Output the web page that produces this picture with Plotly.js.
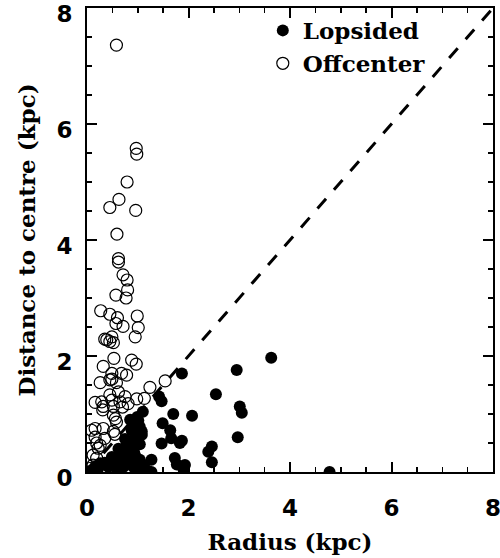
<!DOCTYPE html>
<html>
<head>
<meta charset="utf-8">
<script src="https://cdn.plot.ly/plotly-3.0.1.min.js"></script>
<style>html,body{margin:0;padding:0;background:#fff;}#chart{width:500px;height:558px;}</style>
</head>
<body>
<div id="chart"></div>
<script>
// Lopsided galaxies (filled circles): radius (kpc) and distance to centre (kpc)
var lopsidedRadius = [3.63,2.95,1.87,2.54,1.42,1.47,3.01,3.05,1.70,2.07,1.49,1.64,1.66,1.47,1.83,1.87,2.97,2.46,2.39,2.46,1.73,1.77,1.93,1.90,1.27,1.27,1.11,1.18,4.78,
  1.10,0.99,1.01,0.85,0.91,1.04,0.88,1.08,0.95,1.08,0.75,0.78,0.88,0.95,1.04,0.62,0.68,0.78,0.85,0.93,0.95,0.49,0.55,0.68,0.81,1.04,0.78,0.35,0.42,0.26,0.16,0.22,0.09,0.55,0.72,0.91,0.60,1.00];
var lopsidedDist = [1.97,1.76,1.70,1.34,1.30,1.22,1.13,1.02,1.00,0.97,0.84,0.72,0.58,0.49,0.50,0.54,0.60,0.44,0.35,0.17,0.24,0.13,0.12,0.05,0.21,0.00,0.12,0.03,0.00,
  1.04,0.95,0.89,0.90,0.78,0.78,0.72,0.70,0.64,0.64,0.57,0.47,0.52,0.49,0.48,0.40,0.33,0.41,0.32,0.33,0.28,0.26,0.21,0.18,0.17,0.21,0.24,0.16,0.09,0.15,0.09,0.06,0.03,0.12,0.09,0.09,0.03,0.02];

// Offcenter galaxies (open circles)
var offcenterRadius = [0.58,0.97,0.98,0.79,0.63,0.45,0.96,0.59,0.62,0.62,0.71,0.79,0.80,0.57,0.77,0.27,0.45,0.60,0.57,0.99,0.71,1.01,0.35,0.39,0.49,0.52,0.45,0.95,0.53,0.32,0.88,0.97,0.49,0.49,0.68,0.78,0.26,0.45,0.58,1.54,1.24,0.62,0.45,0.75,0.16,0.29,0.32,0.49,0.65,0.81,0.98,1.13,0.31,0.52,0.70,0.52,0.56,0.58,0.09,0.16,0.32,0.52,0.55,0.16,0.35,0.19,0.26,0.22,0.12,0.19,0.12,0.06];
var offcenterDist = [7.36,5.58,5.48,5.00,4.70,4.56,4.51,4.10,3.68,3.62,3.40,3.31,3.14,3.05,3.00,2.78,2.72,2.66,2.56,2.69,2.51,2.49,2.29,2.28,2.33,2.23,2.25,2.33,1.96,1.82,1.93,1.86,1.70,1.60,1.70,1.67,1.54,1.59,1.54,1.57,1.46,1.38,1.33,1.30,1.20,1.21,1.13,1.24,1.21,1.18,1.26,1.27,1.07,1.13,1.12,0.98,0.92,0.86,0.72,0.75,0.75,0.70,0.65,0.60,0.58,0.50,0.46,0.41,0.29,0.24,0.12,0.06];

// One-to-one reference line
var lineX = [0, 8];
var lineY = [0, 8];

var tickVals = [0, 2, 4, 6, 8];
var tickText = ['0', '2', '4', '6', '8'];

var titleFont = {family: 'DejaVu Serif', size: 23, color: '#000', weight: 'bold'};
var tickFont = {family: 'DejaVu Sans', size: 23, color: '#000', weight: 'bold'};

var traces = [
  {
    x: lopsidedRadius, y: lopsidedDist, type: 'scatter', mode: 'markers', name: 'Lopsided',
    marker: {symbol: 'circle', size: 12, color: '#000', line: {width: 0}}
  },
  {
    x: offcenterRadius, y: offcenterDist, type: 'scatter', mode: 'markers', name: 'Offcenter',
    marker: {symbol: 'circle-open', size: 12, color: '#000', line: {width: 1.2, color: '#000'}}
  },
  {
    x: lineX, y: lineY, type: 'scatter', mode: 'lines', showlegend: false, hoverinfo: 'skip',
    line: {color: '#000', width: 3, dash: '13px,12px'}
  }
];

var RANGE = [0, 8];

function axisCommon() {
  return {
    range: RANGE, autorange: false, showgrid: false, zeroline: false,
    showline: true, linecolor: '#000', linewidth: 2, mirror: true,
    ticks: 'inside', ticklen: 10, tickwidth: 2, tickcolor: '#000',
    tickmode: 'array', tickvals: tickVals, ticktext: tickText, tickfont: tickFont,
    ticklabeloverflow: 'allow',
    minor: {tickmode: 'linear', tick0: 0, dtick: 0.5, ticks: 'inside', ticklen: 5, tickwidth: 1.5, tickcolor: '#000', showgrid: false}
  };
}

var xaxis = axisCommon();
xaxis.title = {text: 'Radius (kpc)', font: titleFont, standoff: 14};
xaxis.ticklabelstandoff = 14;
var yaxis = axisCommon();
yaxis.title = {text: 'Distance to centre (kpc)', font: titleFont, standoff: 14};
yaxis.ticklabelstandoff = 8;
yaxis.ticklabelshift = 6;

var xaxis2 = axisCommon();
xaxis2.overlaying = 'x'; xaxis2.side = 'top'; xaxis2.showticklabels = false; xaxis2.anchor = 'y';
var yaxis2 = axisCommon();
yaxis2.overlaying = 'y'; yaxis2.side = 'right'; yaxis2.showticklabels = false; yaxis2.anchor = 'x';

// empty helper trace so the top/right tick axes are drawn
traces.push({x: [], y: [], xaxis: 'x2', yaxis: 'y2', type: 'scatter', mode: 'markers', showlegend: false, hoverinfo: 'skip'});

var layout = {
  width: 500, height: 558,
  margin: {l: 87, r: 7, t: 8, b: 86, pad: 0},
  paper_bgcolor: '#fff', plot_bgcolor: '#fff',
  xaxis: xaxis, yaxis: yaxis, xaxis2: xaxis2, yaxis2: yaxis2,
  showlegend: true,
  legend: {
    x: 0.433, y: 0.998, xanchor: 'left', yanchor: 'top',
    bgcolor: 'rgba(0,0,0,0)', borderwidth: 0,
    font: {family: 'DejaVu Serif', size: 23, color: '#000', weight: 'bold'},
    tracegroupgap: 0, itemwidth: 30
  }
};

Plotly.newPlot('chart', traces, layout, {displayModeBar: false, staticPlot: true});
</script>
</body>
</html>
